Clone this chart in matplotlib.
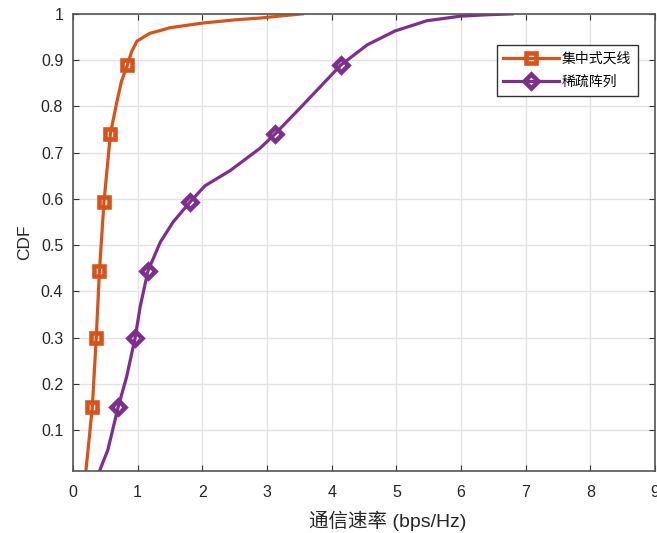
import matplotlib
matplotlib.use('Agg')
from matplotlib import pyplot as plt
from matplotlib.ticker import FixedLocator, FixedFormatter

plt.rcParams['font.family'] = ['Liberation Sans', 'Noto Sans CJK SC', 'DejaVu Sans']

ORANGE = '#D95319'
PURPLE = '#7E2F8E'

# CDF of rate, centralized antenna
central_x = [0.20, 0.25, 0.30, 0.36, 0.41, 0.48, 0.58, 0.68, 0.75, 0.84, 0.91, 0.99,
             1.19, 1.35, 1.50, 2.00, 2.50, 2.90, 3.25, 3.55]
central_y = [0.011, 0.08, 0.15, 0.298, 0.444, 0.593, 0.741, 0.81, 0.854, 0.889, 0.919, 0.941,
             0.958, 0.964, 0.970, 0.980, 0.987, 0.991, 0.996, 1.0]
central_marks = [2, 3, 4, 5, 6, 9]

# CDF of rate, sparse array
sparse_x = [0.41, 0.54, 0.70, 0.83, 0.96, 1.04, 1.16, 1.35, 1.55, 1.81, 2.04, 2.43, 2.89,
            3.13, 3.51, 4.14, 4.55, 4.98, 5.47, 5.99, 6.40, 6.79]
sparse_y = [0.011, 0.057, 0.15, 0.215, 0.298, 0.367, 0.444, 0.506, 0.55, 0.593, 0.628, 0.661,
            0.709, 0.741, 0.796, 0.889, 0.933, 0.963, 0.985, 0.995, 0.998, 1.0]
sparse_marks = [2, 4, 6, 9, 13, 15]

x_ticks = list(range(10))
y_ticks = [0.1, 0.2, 0.3, 0.4, 0.5, 0.6, 0.7, 0.8, 0.9, 1.0]
y_labels = ['0.1', '0.2', '0.3', '0.4', '0.5', '0.6', '0.7', '0.8', '0.9', '1']


def plot_cdf():
    fig = plt.figure(figsize=(6.57, 5.33), dpi=100)
    ax = fig.add_axes([0.111, 0.116, 0.886, 0.858])

    ax.plot(central_x, central_y, color=ORANGE, linewidth=2.3, marker='s', markersize=7,
            markerfacecolor='none', markeredgewidth=3.3, markevery=central_marks,
            solid_joinstyle='round', label='集中式天线')
    ax.plot(sparse_x, sparse_y, color=PURPLE, linewidth=2.3, marker='D', markersize=7.5,
            markerfacecolor='none', markeredgewidth=3.3, markevery=sparse_marks,
            solid_joinstyle='round', label='稀疏阵列')

    ax.set_xlim([0, 9])
    ax.set_ylim([0.011, 1.0])
    ax.xaxis.set_major_locator(FixedLocator(x_ticks))
    ax.yaxis.set_major_locator(FixedLocator(y_ticks))
    ax.yaxis.set_major_formatter(FixedFormatter(y_labels))
    ax.grid(True, color='#e3e3e3', linewidth=1.0)
    ax.set_axisbelow(True)

    for s in ax.spines.values():
        s.set_color('#555555')
        s.set_linewidth(1.2)
    ax.tick_params(direction='in', top=True, right=True, length=4, color='#333333',
                   labelsize=11.5, labelcolor='#262626', pad=7)
    ax.tick_params(axis='x', pad=10)

    ax.set_xlabel('通信速率 (bps/Hz)', fontsize=14, color='#262626')
    ax.xaxis.set_label_coords(0.541, -0.087)
    ax.set_ylabel('CDF', fontsize=12.5, color='#262626', labelpad=6)

    leg = ax.legend(loc='upper right', bbox_to_anchor=(0.971, 0.932), borderaxespad=0,
                    fontsize=10, fancybox=False, edgecolor='#333333', framealpha=1,
                    handlelength=4.0, borderpad=0.5, labelspacing=0.65, handletextpad=0.2)
    leg.get_frame().set_linewidth(1.0)

    plt.savefig('out.png', dpi=100)
    plt.close()


if __name__ == '__main__':
    plot_cdf()
